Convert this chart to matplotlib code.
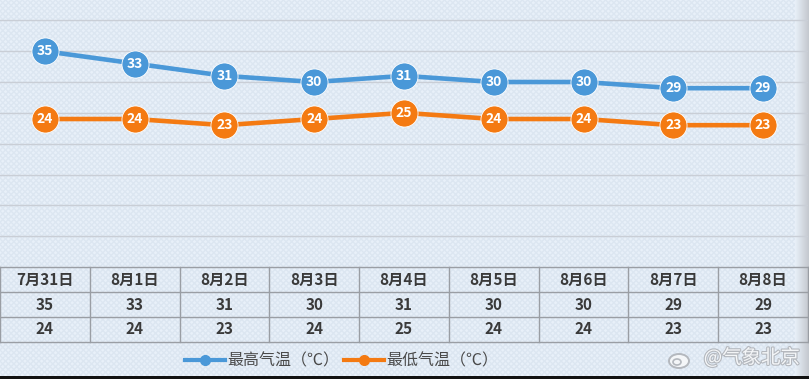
import numpy as np
import matplotlib
matplotlib.use("Agg")
import matplotlib.pyplot as plt
from matplotlib.patches import Rectangle, Ellipse
from matplotlib.lines import Line2D
import matplotlib.patheffects as pe

plt.rcParams['font.family'] = ['Noto Sans CJK SC', 'DejaVu Sans']

# data
dates = ["7月31日", "8月1日", "8月2日", "8月3日", "8月4日", "8月5日", "8月6日", "8月7日", "8月8日"]
high_temp = [35, 33, 31, 30, 31, 30, 30, 29, 29]
low_temp = [24, 24, 23, 24, 25, 24, 24, 23, 23]
high_label = "最高气温（℃）"
low_label = "最低气温（℃）"

blue = "#4a98d8"
orange = "#f47a12"
grid_col = "#c9ced6"
text_col = "#3a3a3a"

W, H = 809, 379
fig = plt.figure(figsize=(W / 100, H / 100), dpi=100)
fig.patch.set_facecolor("#e8f0f9")

# background with faint texture
bg = fig.add_axes([0, 0, 1, 1])
bg.set_xlim(0, W)
bg.set_ylim(H, 0)
bg.axis("off")
bg.add_patch(Rectangle((0, 0), W, H, facecolor="#e8f0f9", edgecolor="#dce6f1",
                       hatch="xxxxxx", linewidth=0))

x = np.arange(len(dates))

# main chart
ax = fig.add_axes([0, (H - 267) / H, 808 / W, 267 / H])
ax.set_facecolor("none")
ax.set_xlim(-0.5, len(dates) - 0.5)
ax.set_ylim(0, 43.3)
for v in range(5, 45, 5):
    ax.axhline(v, color=grid_col, lw=1, zorder=1)
for s in ax.spines.values():
    s.set_visible(False)
ax.set_xticks([])
ax.set_yticks([])

ax.plot(x, high_temp, color=blue, lw=3.3, marker="o", ms=19.5, mec="white", mew=0.6, zorder=3)
ax.plot(x, low_temp, color=orange, lw=3.3, marker="o", ms=19.5, mec="white", mew=0.6, zorder=3)
for xi, h, l in zip(x, high_temp, low_temp):
    ax.text(xi, h, str(h), color="white", fontsize=10, fontweight="bold",
            ha="center", va="center", zorder=4)
    ax.text(xi, l, str(l), color="white", fontsize=10, fontweight="bold",
            ha="center", va="center", zorder=4)

# table under chart
tb = fig.add_axes([0, (H - 342) / H, 808 / W, 75 / H])
tb.set_facecolor("none")
tb.set_xlim(-0.5, len(dates) - 0.5)
tb.set_ylim(3, 0)
tb.axis("off")
tcol = "#9a9ea4"
for r in range(4):
    tb.plot([-0.5, len(dates) - 0.5], [r, r], color=tcol, lw=1, clip_on=False)
for c in range(len(dates) + 1):
    tb.plot([c - 0.5, c - 0.5], [0, 3], color=tcol, lw=1, clip_on=False)
for i, d in enumerate(dates):
    tb.text(i, 0.5, d, ha="center", va="center", fontsize=11, fontweight="bold", color=text_col)
    tb.text(i, 1.5, str(high_temp[i]), ha="center", va="center", fontsize=11,
            fontweight="bold", color=text_col)
    tb.text(i, 2.5, str(low_temp[i]), ha="center", va="center", fontsize=11,
            fontweight="bold", color=text_col)

# legend
handles = [Line2D([], [], color=blue, lw=3, marker="o", ms=7),
           Line2D([], [], color=orange, lw=3, marker="o", ms=7)]
fig.legend(handles, [high_label, low_label], ncol=2, loc="center",
           bbox_to_anchor=(342 / W, 1 - 361 / H), frameon=False, fontsize=11.5,
           handlelength=2.5, handletextpad=0.15, columnspacing=0.3, labelcolor="#4a4a4a")

# watermark
stroke = [pe.withStroke(linewidth=1.6, foreground="#b4b8be")]
bg.text(752, 358, "@气象北京", ha="center", va="center", fontsize=14, color="#f4f6f8",
        path_effects=stroke, zorder=5)
bg.add_patch(Ellipse((679, 361), 20, 14, facecolor="#f4f6f8", edgecolor="#b4b8be", lw=1.4, zorder=5))
bg.add_patch(Ellipse((677, 362), 8, 6, facecolor="none", edgecolor="#b4b8be", lw=1.2, zorder=5))

# right shadow strip and bottom bar
grad = np.linspace(0, 1, 50).reshape(1, -1)
bg.imshow(grad, extent=(795, W, H, 0), cmap=matplotlib.colors.LinearSegmentedColormap.from_list(
    "g", ["#e8f0f9", "#c4c8ce"]), aspect="auto", zorder=2)
bg.add_patch(Rectangle((0, 376), W, 3, facecolor="#111111", lw=0, zorder=6))

fig.savefig("out.png", dpi=100)
